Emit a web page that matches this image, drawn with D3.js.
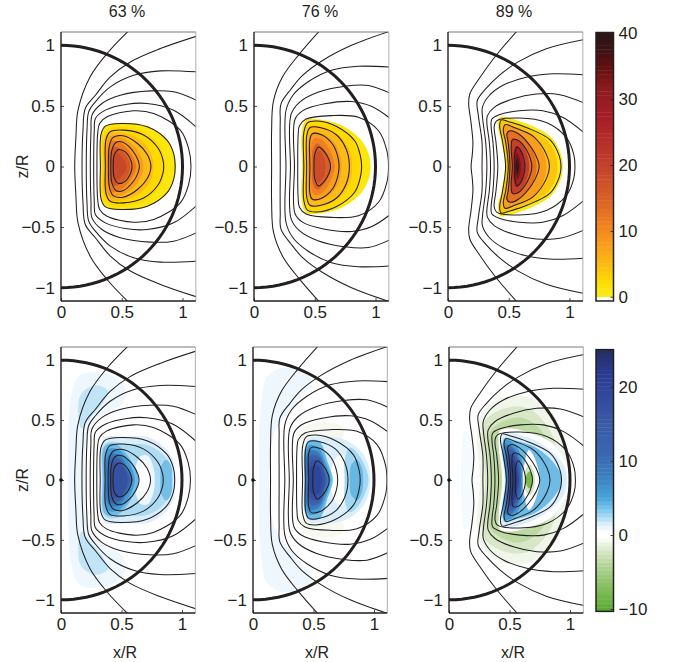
<!DOCTYPE html>
<html>
<head>
<meta charset="utf-8">
<style>
  html, body { margin: 0; padding: 0; background: #fff; }
  text { font-family: "Liberation Sans", Arial, sans-serif; fill: #231f20; }
</style>
<script src="https://cdn.jsdelivr.net/npm/d3@7"></script>
</head>
<body>
<svg id="chart" width="674" height="662"></svg>
<script>
// column titles and ticks
var titles = ['63 %', '76 %', '89 %']
var xTicks = [0, 0.5, 1]
var zTicks = [-1, -0.5, 0, 0.5, 1]
var tempTicks = [0, 10, 20, 30, 40]
var diffTicks = [-10, 0, 10, 20]

// colour bars, value -> colour as read from the legends
var tempStops = [-0.01, 0, 2, 4, 7, 10, 15, 20, 27, 32, 35, 38, 40]
var tempColors = ['#ffffff', '#f6ec20', '#ffe000', '#fdc50f', '#faa61a', '#f58a1f', '#d95f27', '#c2412b', '#a81e27', '#8a1a1e', '#601010', '#3a1214', '#2b1517']
var diffStops = [-10, -7, -4, -2, -0.3, 0.5, 1.5, 3, 5, 8, 11, 15, 20, 22, 25]
var diffColors = ['#5aab35', '#86bf5e', '#b5d59a', '#dce9cc', '#ffffff', '#ffffff', '#daeffb', '#8fd0f0', '#4aa6dc', '#3a7ec0', '#3a68b0', '#3a5aa6', '#2f4499', '#2a3a8f', '#232f5f']

// flux contours, upper half only as [x/R, z/R]; they are mirrored about z = 0
var contours63 = [
  [[0.113, 0], [0.123, 0.245], [0.14, 0.465], [0.24, 0.74], [0.39, 0.945], [0.557, 1.12]],
  [[0.173, 0], [0.181, 0.3], [0.2, 0.479], [0.283, 0.588], [0.406, 0.739], [0.571, 0.863], [0.818, 0.973], [1.13, 1.08]],
  [[0.208, 0], [0.214, 0.3], [0.228, 0.451], [0.283, 0.534], [0.406, 0.657], [0.598, 0.753], [0.818, 0.789], [1.13, 0.78]],
  [[0.241, 0], [0.247, 0.3], [0.255, 0.424], [0.337, 0.52], [0.488, 0.588], [0.735, 0.624], [0.927, 0.616], [1.13, 0.54]],
  [[0.269, 0], [0.274, 0.3], [0.283, 0.396], [0.365, 0.465], [0.543, 0.514], [0.708, 0.52], [0.927, 0.465], [1.13, 0.31]],
  [[0.296, 0], [0.302, 0.273], [0.318, 0.355], [0.379, 0.41], [0.598, 0.46], [0.763, 0.438], [0.982, 0.3], [1.05, 0.15], [1.07, 0]],
  [[0.324, 0], [0.33, 0.27], [0.365, 0.333], [0.49, 0.355], [0.71, 0.328], [0.872, 0.218], [0.927, 0.108], [0.94, 0]],
  [[0.365, 0], [0.37, 0.22], [0.405, 0.287], [0.515, 0.3], [0.68, 0.26], [0.8, 0.15], [0.84, 0.05], [0.845, 0]],
  [[0.39, 0], [0.4, 0.18], [0.43, 0.24], [0.51, 0.254], [0.63, 0.19], [0.71, 0.1], [0.74, 0]],
  [[0.41, 0], [0.42, 0.14], [0.455, 0.2], [0.51, 0.2], [0.59, 0.13], [0.635, 0.05], [0.645, 0]],
  [[0.43, 0], [0.44, 0.1], [0.475, 0.14], [0.53, 0.12], [0.575, 0.05], [0.585, 0]]
]
var contours76 = [
  [[0.145, 0], [0.145, 0.3], [0.16, 0.54], [0.235, 0.74], [0.375, 0.93], [0.54, 1.12]],
  [[0.216, 0], [0.216, 0.38], [0.222, 0.517], [0.305, 0.64], [0.4, 0.752], [0.568, 0.877], [0.803, 1.0], [1.13, 1.12]],
  [[0.263, 0], [0.263, 0.46], [0.319, 0.586], [0.443, 0.697], [0.637, 0.794], [0.859, 0.827], [1.13, 0.82]],
  [[0.3, 0], [0.305, 0.43], [0.374, 0.53], [0.526, 0.613], [0.748, 0.663], [0.942, 0.669], [1.13, 0.6]],
  [[0.333, 0], [0.338, 0.39], [0.402, 0.461], [0.582, 0.517], [0.803, 0.536], [0.97, 0.495], [1.13, 0.39]],
  [[0.36, 0], [0.363, 0.25], [0.374, 0.337], [0.429, 0.392], [0.637, 0.42], [0.859, 0.406], [1.025, 0.295], [1.094, 0.129], [1.107, 0]],
  [[0.41, 0], [0.41, 0.28], [0.44, 0.36], [0.52, 0.375], [0.68, 0.33], [0.83, 0.21], [0.875, 0.09], [0.886, 0]],
  [[0.433, 0], [0.435, 0.26], [0.46, 0.32], [0.55, 0.32], [0.68, 0.26], [0.76, 0.14], [0.785, 0]],
  [[0.46, 0], [0.46, 0.22], [0.48, 0.27], [0.56, 0.26], [0.65, 0.18], [0.69, 0.08], [0.7, 0]],
  [[0.494, 0], [0.5, 0.1], [0.53, 0.16], [0.58, 0.12], [0.62, 0.05], [0.63, 0]]
]
var contours89 = [
  [[0.19, 0], [0.2, 0.1], [0.205, 0.2], [0.19, 0.36], [0.17, 0.52], [0.18, 0.6], [0.26, 0.73], [0.39, 0.91], [0.57, 1.12]],
  [[0.28, 0], [0.28, 0.2], [0.25, 0.42], [0.241, 0.543], [0.31, 0.64], [0.42, 0.75], [0.573, 0.861], [0.809, 0.972], [1.13, 1.05]],
  [[0.32, 0], [0.31, 0.2], [0.285, 0.4], [0.283, 0.488], [0.338, 0.584], [0.449, 0.668], [0.643, 0.737], [0.864, 0.765], [1.13, 0.756]],
  [[0.35, 0], [0.34, 0.2], [0.32, 0.36], [0.324, 0.418], [0.38, 0.488], [0.532, 0.557], [0.726, 0.598], [0.92, 0.593], [1.13, 0.52]],
  [[0.38, 0], [0.37, 0.2], [0.355, 0.33], [0.36, 0.39], [0.421, 0.427], [0.587, 0.46], [0.781, 0.46], [0.947, 0.404], [1.13, 0.27]],
  [[0.41, 0], [0.395, 0.2], [0.38, 0.33], [0.4, 0.377], [0.587, 0.4], [0.809, 0.363], [0.975, 0.238], [1.035, 0.1], [1.045, 0]],
  [[0.474, 0], [0.45, 0.2], [0.425, 0.34], [0.44, 0.385], [0.5, 0.37], [0.65, 0.32], [0.84, 0.22], [0.915, 0.09], [0.93, 0]],
  [[0.496, 0], [0.475, 0.2], [0.455, 0.3], [0.47, 0.345], [0.55, 0.32], [0.7, 0.25], [0.81, 0.1], [0.835, 0]],
  [[0.51, 0], [0.495, 0.2], [0.485, 0.27], [0.51, 0.295], [0.58, 0.27], [0.69, 0.15], [0.74, 0.05], [0.75, 0]],
  [[0.53, 0], [0.52, 0.15], [0.53, 0.22], [0.58, 0.215], [0.65, 0.13], [0.685, 0.04], [0.69, 0]],
  [[0.55, 0], [0.55, 0.1], [0.57, 0.16], [0.6, 0.13], [0.625, 0.06], [0.634, 0]]
]

// top row, level of each filled region and its outline (same half format)
var tempLevels63 = [1, 2.5, 5, 8, 12, 16, 19]
var tempShapes63 = [
  [[0.324, 0], [0.33, 0.27], [0.365, 0.333], [0.49, 0.36], [0.71, 0.33], [0.875, 0.22], [0.93, 0.1], [0.945, 0]],
  [[0.335, 0], [0.34, 0.26], [0.375, 0.31], [0.5, 0.33], [0.68, 0.29], [0.81, 0.17], [0.85, 0.07], [0.86, 0]],
  [[0.35, 0], [0.355, 0.23], [0.39, 0.28], [0.5, 0.28], [0.64, 0.23], [0.74, 0.11], [0.76, 0]],
  [[0.365, 0], [0.37, 0.19], [0.405, 0.25], [0.5, 0.24], [0.6, 0.17], [0.665, 0.07], [0.68, 0]],
  [[0.385, 0], [0.39, 0.16], [0.42, 0.21], [0.5, 0.19], [0.58, 0.1], [0.62, 0]],
  [[0.4, 0], [0.405, 0.12], [0.44, 0.16], [0.51, 0.13], [0.56, 0.05], [0.57, 0]],
  [[0.42, 0], [0.425, 0.08], [0.46, 0.11], [0.51, 0.07], [0.54, 0]]
]
var tempLevels76 = [1, 2.5, 5, 8, 11, 15, 18]
var tempShapes76 = [
  [[0.395, 0], [0.395, 0.3], [0.43, 0.385], [0.52, 0.39], [0.72, 0.34], [0.88, 0.22], [0.945, 0.1], [0.96, 0]],
  [[0.41, 0], [0.41, 0.28], [0.44, 0.36], [0.52, 0.375], [0.68, 0.33], [0.83, 0.21], [0.875, 0.09], [0.886, 0]],
  [[0.425, 0], [0.43, 0.26], [0.46, 0.33], [0.55, 0.33], [0.68, 0.27], [0.78, 0.15], [0.81, 0]],
  [[0.445, 0], [0.45, 0.22], [0.48, 0.28], [0.56, 0.27], [0.66, 0.2], [0.71, 0.08], [0.72, 0]],
  [[0.465, 0], [0.47, 0.18], [0.5, 0.235], [0.57, 0.21], [0.64, 0.1], [0.665, 0]],
  [[0.48, 0], [0.485, 0.14], [0.52, 0.19], [0.57, 0.15], [0.62, 0.07], [0.63, 0]],
  [[0.5, 0], [0.505, 0.09], [0.53, 0.13], [0.57, 0.09], [0.59, 0]]
]
var tempLevels89 = [0.5, 4, 8, 13, 20, 27, 33, 38]
var tempShapes89 = [
  [[0.47, 0], [0.44, 0.2], [0.41, 0.34], [0.43, 0.41], [0.5, 0.4], [0.68, 0.34], [0.85, 0.24], [0.93, 0.1], [0.945, 0]],
  [[0.48, 0], [0.46, 0.2], [0.425, 0.34], [0.45, 0.385], [0.5, 0.37], [0.65, 0.32], [0.82, 0.21], [0.89, 0.09], [0.9, 0]],
  [[0.495, 0], [0.475, 0.2], [0.455, 0.3], [0.47, 0.345], [0.55, 0.32], [0.7, 0.25], [0.79, 0.11], [0.81, 0]],
  [[0.51, 0], [0.495, 0.2], [0.485, 0.28], [0.51, 0.3], [0.58, 0.27], [0.68, 0.17], [0.73, 0]],
  [[0.53, 0], [0.52, 0.15], [0.53, 0.23], [0.58, 0.215], [0.64, 0.13], [0.67, 0]],
  [[0.54, 0], [0.54, 0.11], [0.56, 0.17], [0.6, 0.13], [0.62, 0.05], [0.63, 0]],
  [[0.55, 0], [0.55, 0.07], [0.57, 0.11], [0.59, 0.07], [0.6, 0]],
  [[0.555, 0], [0.56, 0.04], [0.57, 0.07], [0.58, 0.04], [0.585, 0]]
]

// bottom row, painted in this order
var diffLevels63 = [1, 2, 1.5, 2.4, 1, 0, 3.8, 4, 6, 9, 13, 17]
var diffShapes63 = [
  [[0.06, 0], [0.06, 0.4], [0.09, 0.72], [0.15, 0.87], [0.28, 0.9], [0.44, 0.86], [0.54, 0.74], [0.5, 0.63], [0.36, 0.55], [0.27, 0.47], [0.21, 0.3], [0.2, 0]],
  [[0.144, 0.65], [0.185, 0.74], [0.3, 0.79], [0.39, 0.74], [0.35, 0.65], [0.24, 0.515], [0.17, 0.43]],
  [[0.33, 0], [0.335, 0.3], [0.37, 0.36], [0.52, 0.36], [0.74, 0.35], [0.905, 0.21], [0.947, 0]],
  [[0.34, 0], [0.345, 0.28], [0.4, 0.32], [0.55, 0.3], [0.72, 0.29], [0.87, 0.18], [0.92, 0]],
  [[0.61, 0], [0.62, 0.12], [0.66, 0.2], [0.72, 0.2], [0.77, 0.08], [0.775, 0]],
  [[0.64, 0], [0.645, 0.08], [0.69, 0.14], [0.72, 0.11], [0.74, 0.04], [0.74, 0]],
  [[0.82, 0], [0.83, 0.12], [0.87, 0.17], [0.91, 0.12], [0.92, 0]],
  [[0.345, 0], [0.35, 0.26], [0.39, 0.3], [0.47, 0.29], [0.58, 0.16], [0.64, 0]],
  [[0.36, 0], [0.365, 0.22], [0.4, 0.26], [0.48, 0.25], [0.57, 0.13], [0.61, 0]],
  [[0.375, 0], [0.38, 0.18], [0.41, 0.22], [0.48, 0.21], [0.55, 0.1], [0.59, 0]],
  [[0.39, 0], [0.395, 0.15], [0.43, 0.19], [0.49, 0.17], [0.55, 0.07], [0.575, 0]],
  [[0.41, 0], [0.415, 0.11], [0.45, 0.15], [0.5, 0.13], [0.55, 0]]
]
var diffLevels76 = [1, -0.8, 1.5, 2.6, 4.2, 0.3, 4, 6, 9, 13, 17, 20]
var diffShapes76 = [
  [[0.05, 0], [0.05, 0.4], [0.07, 0.65], [0.11, 0.85], [0.22, 0.93], [0.36, 0.92], [0.49, 0.83], [0.4, 0.7], [0.28, 0.55], [0.18, 0.4], [0.14, 0.2], [0.135, 0]],
  [[0.38, 0.34], [0.42, 0.44], [0.6, 0.485], [0.75, 0.43], [0.72, 0.33], [0.55, 0.32]],
  [[0.42, 0], [0.425, 0.28], [0.46, 0.35], [0.56, 0.36], [0.75, 0.34], [0.915, 0.21], [0.97, 0]],
  [[0.76, 0], [0.76, 0.18], [0.8, 0.27], [0.88, 0.2], [0.955, 0]],
  [[0.8, 0], [0.81, 0.12], [0.86, 0.17], [0.9, 0.1], [0.91, 0]],
  [[0.64, 0], [0.65, 0.1], [0.7, 0.2], [0.75, 0.2], [0.75, 0.1], [0.75, 0]],
  [[0.425, 0], [0.43, 0.27], [0.47, 0.33], [0.55, 0.32], [0.62, 0.14], [0.66, 0]],
  [[0.43, 0], [0.435, 0.24], [0.47, 0.29], [0.54, 0.27], [0.61, 0.12], [0.64, 0]],
  [[0.44, 0], [0.445, 0.21], [0.48, 0.25], [0.54, 0.23], [0.6, 0.1], [0.625, 0]],
  [[0.45, 0], [0.455, 0.17], [0.49, 0.21], [0.55, 0.19], [0.59, 0.08], [0.61, 0]],
  [[0.46, 0], [0.465, 0.14], [0.5, 0.17], [0.55, 0.14], [0.595, 0]],
  [[0.47, 0], [0.475, 0.1], [0.51, 0.13], [0.55, 0.1], [0.57, 0]]
]
var diffLevels89 = [0.8, -1, -2.2, -3.6, 0, 1.5, 4, 0, -2.5, -8, 6, 10, 14, 18, 22]
var diffShapes89 = [
  [[0.1, 0], [0.105, 0.25], [0.13, 0.41], [0.165, 0.38], [0.2, 0.2], [0.2, 0]],
  [[0.255, 0], [0.23, 0.4], [0.28, 0.57], [0.46, 0.69], [0.66, 0.69], [0.88, 0.52], [0.97, 0.3], [0.99, 0]],
  [[0.3, 0], [0.27, 0.38], [0.3, 0.5], [0.47, 0.6], [0.65, 0.6], [0.8, 0.47], [0.88, 0.3], [0.92, 0]],
  [[0.34, 0], [0.32, 0.34], [0.35, 0.42], [0.47, 0.5], [0.6, 0.52], [0.74, 0.44], [0.82, 0.3], [0.87, 0]],
  [[0.44, 0], [0.41, 0.3], [0.42, 0.41], [0.5, 0.43], [0.68, 0.39], [0.86, 0.3], [0.98, 0.1], [0.99, 0]],
  [[0.46, 0], [0.43, 0.25], [0.435, 0.37], [0.476, 0.39], [0.59, 0.377], [0.78, 0.29], [0.947, 0.127], [0.975, 0]],
  [[0.47, 0], [0.44, 0.25], [0.46, 0.35], [0.55, 0.33], [0.72, 0.27], [0.86, 0.15], [0.935, 0]],
  [[0.6, 0], [0.62, 0.12], [0.66, 0.25], [0.7, 0.2], [0.74, 0.08], [0.75, 0]],
  [[0.615, 0], [0.63, 0.08], [0.665, 0.13], [0.7, 0.07], [0.71, 0]],
  [[0.635, 0], [0.645, 0.05], [0.665, 0.07], [0.685, 0.05], [0.69, 0]],
  [[0.47, 0], [0.45, 0.22], [0.46, 0.33], [0.52, 0.32], [0.59, 0.22], [0.61, 0]],
  [[0.48, 0], [0.465, 0.2], [0.47, 0.29], [0.52, 0.28], [0.58, 0.18], [0.6, 0]],
  [[0.49, 0], [0.48, 0.18], [0.485, 0.26], [0.525, 0.25], [0.57, 0.15], [0.59, 0]],
  [[0.505, 0], [0.495, 0.15], [0.505, 0.22], [0.54, 0.2], [0.565, 0.1], [0.58, 0]],
  [[0.52, 0], [0.515, 0.12], [0.53, 0.17], [0.55, 0.13], [0.565, 0]]
]

var contourSets = [contours63, contours76, contours89]
var tempLevelSets = [tempLevels63, tempLevels76, tempLevels89]
var tempShapeSets = [tempShapes63, tempShapes76, tempShapes89]
var diffLevelSets = [diffLevels63, diffLevels76, diffLevels89]
var diffShapeSets = [diffShapes63, diffShapes76, diffShapes89]

var paper = d3.select('#chart')
var defs = paper.append('defs')
defs.append('filter').attr('id', 'soft')
  .attr('x', '-10%').attr('y', '-10%').attr('width', '120%').attr('height', '120%')
  .append('feGaussianBlur').attr('stdDeviation', 0.7)

var tempColor = d3.scaleLinear().domain(tempStops).range(tempColors).clamp(true)
var diffColor = d3.scaleLinear().domain(diffStops).range(diffColors).clamp(true)

function fmt (d) {
  return String(d).replace('-', '\u2212')
}

// mirror a half outline; a half that ends on z = 0 gives one closed ring
function ringPoints (half) {
  var back = half.slice(1, -1).reverse().map(function (p) { return [p[0], -p[1]] })
  return half.concat(back)
}

function drawPanel (id, col, row, box, levels, shapes, colors) {
  var x = d3.scaleLinear().domain([0, 1.11]).range([box.left, box.left + 1.11 * box.unit])
  var z = d3.scaleLinear().domain([-1.11, 1.11]).range([box.bottom, box.top])
  var right = x(1.11)

  defs.append('clipPath').attr('id', 'clip' + id)
    .append('rect')
    .attr('x', box.left).attr('y', box.top)
    .attr('width', right - box.left).attr('height', box.bottom - box.top)

  var g = paper.append('g')
  var closed = d3.line().x(function (d) { return x(d[0]) }).y(function (d) { return z(d[1]) })
    .curve(d3.curveCatmullRomClosed.alpha(0.5))
  var open = d3.line().x(function (d) { return x(d[0]) }).y(function (d) { return z(d[1]) })
    .curve(d3.curveCatmullRom.alpha(0.5))

  var fills = g.append('g').attr('clip-path', 'url(#clip' + id + ')')
    .append('g').attr('filter', 'url(#soft)')
  shapes.forEach(function (half, i) {
    var last = half[half.length - 1]
    var first = half[0]
    var d
    if (first[1] === 0 && last[1] === 0) {
      d = closed(ringPoints(half))
    } else {
      // blob off the midplane, one above and one below
      d = closed(half) + closed(half.map(function (p) { return [p[0], -p[1]] }))
    }
    fills.append('path').attr('d', d).attr('fill', colors(levels[i]))
  })

  var lines = g.append('g').attr('clip-path', 'url(#clip' + id + ')')
  contourSets[col].forEach(function (half) {
    var last = half[half.length - 1]
    var d
    if (last[1] === 0) {
      d = closed(ringPoints(half))
    } else {
      var lower = half.slice(1).reverse().map(function (p) { return [p[0], -p[1]] })
      d = open(lower.concat(half))
    }
    lines.append('path').attr('d', d)
      .attr('fill', 'none').attr('stroke', '#231f20').attr('stroke-width', 1.05)
  })

  // plasma boundary
  var angles = d3.range(0, 181, 3).map(function (a) {
    var t = a * Math.PI / 180
    return [Math.sin(t), Math.cos(t)]
  })
  lines.append('path')
    .attr('d', d3.line().x(function (d) { return x(d[0]) }).y(function (d) { return z(d[1]) })(angles))
    .attr('fill', 'none').attr('stroke', '#231f20').attr('stroke-width', 3)

  // axes, matlab style with ticks pointing in
  var xAxis = d3.axisBottom(x).tickValues(xTicks).tickFormat(fmt).tickSizeInner(-3).tickSizeOuter(0).tickPadding(5)
  var zAxis = d3.axisLeft(z).tickValues(zTicks).tickFormat(fmt).tickSizeInner(-3).tickSizeOuter(0).tickPadding(6)
  var ax = g.append('g').attr('transform', 'translate(0,' + box.bottom + ')').call(xAxis)
  var az = g.append('g').attr('transform', 'translate(' + box.left + ',0)').call(zAxis)
  ;[ax, az].forEach(function (a) {
    a.select('.domain').remove()
    a.selectAll('text').attr('font-size', 17).style('font-family', '"Liberation Sans", Arial, sans-serif')
    a.selectAll('line').attr('stroke', '#231f20').attr('stroke-width', 0.8)
  })

  g.append('line').attr('x1', box.left).attr('x2', right).attr('y1', box.top).attr('y2', box.top)
    .attr('stroke', '#555').attr('stroke-width', 0.8)
  g.append('line').attr('x1', right).attr('x2', right).attr('y1', box.top).attr('y2', box.bottom)
    .attr('stroke', '#999').attr('stroke-width', 0.8)
  g.append('line').attr('x1', box.left).attr('x2', box.left).attr('y1', box.top).attr('y2', box.bottom)
    .attr('stroke', '#231f20').attr('stroke-width', 1.4)
  g.append('line').attr('x1', box.left).attr('x2', right).attr('y1', box.bottom).attr('y2', box.bottom)
    .attr('stroke', '#231f20').attr('stroke-width', 1.4)

  if (row === 1) {
    g.append('circle').attr('cx', x(0)).attr('cy', z(0)).attr('r', 1.8).attr('fill', '#111')
  }
}

function drawColorbar (box, domain, colors, ticks, span) {
  var y = d3.scaleLinear().domain(domain).range([box.zero, box.high])
  var steps = 64
  var band = (span[1] - span[0]) / steps
  var bar = paper.append('g')
  d3.range(steps).forEach(function (i) {
    var v = span[0] + band * i
    bar.append('rect')
      .attr('x', box.left)
      .attr('width', box.right - box.left)
      .attr('y', y(v + band))
      .attr('height', Math.abs(y(v) - y(v + band)) + 0.4)
      .attr('fill', colors(v + band / 2))
  })
  bar.append('rect')
    .attr('x', box.left).attr('width', box.right - box.left)
    .attr('y', y(span[1])).attr('height', y(span[0]) - y(span[1]))
    .attr('fill', 'none').attr('stroke', '#231f20').attr('stroke-width', 1.5)
  var axis = d3.axisRight(y).tickValues(ticks).tickFormat(fmt).tickSizeInner(-3).tickSizeOuter(0).tickPadding(5)
  var a = paper.append('g').attr('transform', 'translate(' + box.right + ',0)').call(axis)
  a.select('.domain').remove()
  a.selectAll('text').attr('font-size', 17).style('font-family', '"Liberation Sans", Arial, sans-serif')
  a.selectAll('line').attr('stroke', '#231f20').attr('stroke-width', 0.8)
}

var topLefts = [61, 254, 448]
var bottomLefts = [61, 253, 449]

titles.forEach(function (t, i) {
  drawPanel('t' + i, i, 0, { left: topLefts[i], top: 32, bottom: 301, unit: 121.5 },
    tempLevelSets[i], tempShapeSets[i], tempColor)
  drawPanel('b' + i, i, 1, { left: bottomLefts[i], top: 347, bottom: 613, unit: 121 },
    diffLevelSets[i], diffShapeSets[i], diffColor)
  paper.append('text').attr('x', topLefts[i] + 66).attr('y', 17)
    .attr('text-anchor', 'middle').attr('font-size', 16).text(t)
  paper.append('text').attr('x', bottomLefts[i] + 64).attr('y', 658)
    .attr('text-anchor', 'middle').attr('font-size', 16).text('x/R')
})

;[166.5, 480].forEach(function (cy) {
  paper.append('text')
    .attr('transform', 'translate(28,' + cy + ') rotate(-90)')
    .attr('text-anchor', 'middle').attr('font-size', 16).text('z/R')
})

drawColorbar({ left: 596, right: 613.5, zero: 296.7, high: 33.5 }, [0, 40], tempColor, tempTicks, [-0.65, 40.15])
drawColorbar({ left: 596, right: 613.5, zero: 535, high: 386.7 }, [0, 20], diffColor, diffTicks, [-10.3, 25])
</script>
</body>
</html>
